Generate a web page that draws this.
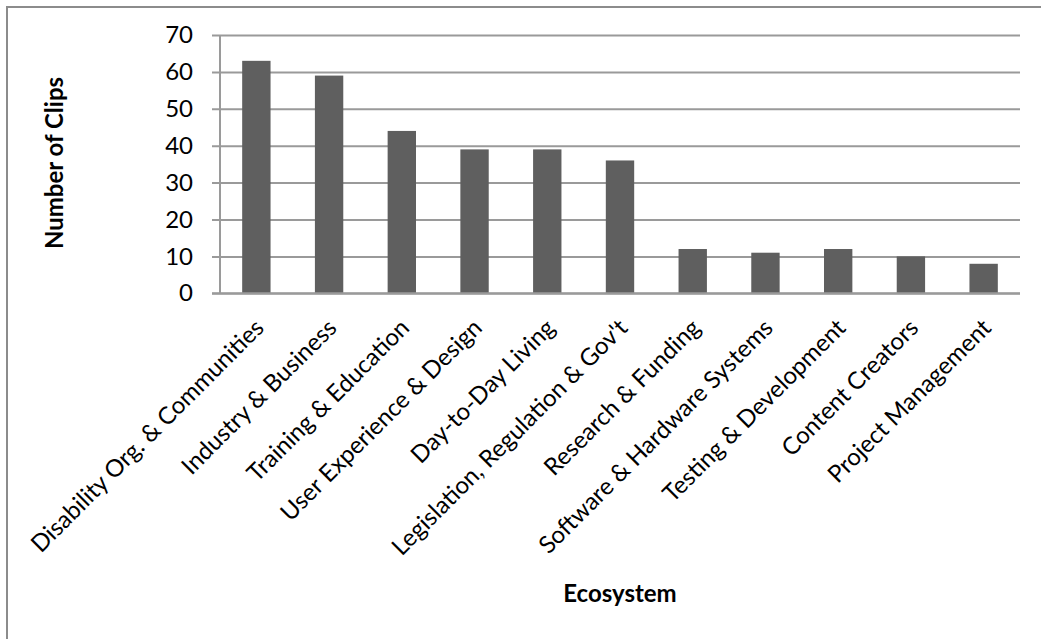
<!DOCTYPE html>
<html>
<head>
<meta charset="utf-8">
<script src="https://cdn.jsdelivr.net/npm/d3@7"></script>
<style>
  html, body { margin: 0; padding: 0; background: #fff; }
  svg { display: block; font-family: Lato, Carlito, Calibri, sans-serif; }
</style>
</head>
<body>
<div class="chart-section"></div>
<script>
const categories = [
  "Disability Org. & Communities",
  "Industry & Business",
  "Training & Education",
  "User Experience & Design",
  "Day-to-Day Living",
  "Legislation, Regulation & Gov't",
  "Research & Funding",
  "Software & Hardware Systems",
  "Testing & Development",
  "Content Creators",
  "Project Management",
];
const clips = [63, 59, 44, 39, 39, 36, 12, 11, 12, 10, 8];
const yTicks = [0, 10, 20, 30, 40, 50, 60, 70];

const width = 1041;
const height = 639;
const margin = { top: 35, right: 21, bottom: 346, left: 220 };

const svg = d3
  .select(".chart-section")
  .append("svg")
  .attr("width", width)
  .attr("height", height);

// outer frame
svg
  .append("rect")
  .attr("x", 7)
  .attr("y", 7)
  .attr("width", width + 20)
  .attr("height", height + 20)
  .attr("fill", "none")
  .attr("stroke", "#8c8c8c")
  .attr("stroke-width", 2);

const x = d3
  .scaleBand()
  .domain(categories)
  .range([margin.left, width - margin.right])
  .paddingInner(0.61)
  .paddingOuter(0.305);

const y = d3
  .scaleLinear()
  .domain([0, 70])
  .range([height - margin.bottom + 0.3, margin.top]);

// gridlines + y axis
const yAxis = svg
  .append("g")
  .attr("transform", `translate(${margin.left},0)`)
  .call(
    d3
      .axisLeft(y)
      .tickValues(yTicks)
      .tickSize(-(width - margin.left - margin.right))
      .tickSizeOuter(0)
      .tickPadding(27)
  );
yAxis.select(".domain").remove();
yAxis
  .selectAll(".tick line")
  .attr("x1", -8)
  .attr("stroke", "#9a9a9a")
  .attr("stroke-width", 2);
yAxis
  .selectAll(".tick text")
  .attr("font-size", 24)
  .attr("fill", "#000")
  .attr("font-family", "Lato, sans-serif");

svg
  .append("line")
  .attr("x1", margin.left)
  .attr("x2", margin.left)
  .attr("y1", y(70))
  .attr("y2", y(0))
  .attr("stroke", "#9a9a9a")
  .attr("stroke-width", 2);

// bars
svg
  .append("g")
  .selectAll("rect")
  .data(clips)
  .join("rect")
  .attr("x", (d, i) => x(categories[i]))
  .attr("y", (d) => y(d))
  .attr("width", x.bandwidth())
  .attr("height", (d) => y(0) - y(d))
  .attr("fill", "#5f5f5f");

// redraw baseline over bars
svg
  .append("line")
  .attr("x1", margin.left - 8)
  .attr("x2", width - margin.right)
  .attr("y1", y(0))
  .attr("y2", y(0))
  .attr("stroke", "#9a9a9a")
  .attr("stroke-width", 2);

// category labels
svg
  .append("g")
  .selectAll("text")
  .data(categories)
  .join("text")
  .attr(
    "transform",
    (d) => `translate(${x(d) + x.bandwidth() / 2 + 9},${y(0) + 36}) rotate(-45)`
  )
  .attr("text-anchor", "end")
  .attr("font-size", 24)
  .attr("fill", "#000")
  .text((d) => d);

// axis titles
svg
  .append("text")
  .attr("transform", "translate(63,163) rotate(-90)")
  .attr("text-anchor", "middle")
  .attr("font-size", 24)
  .attr("font-weight", "bold")
  .text("Number of Clips");

svg
  .append("text")
  .attr("x", 620)
  .attr("y", 602)
  .attr("text-anchor", "middle")
  .attr("font-size", 24)
  .attr("font-weight", "bold")
  .text("Ecosystem");
</script>
</body>
</html>
